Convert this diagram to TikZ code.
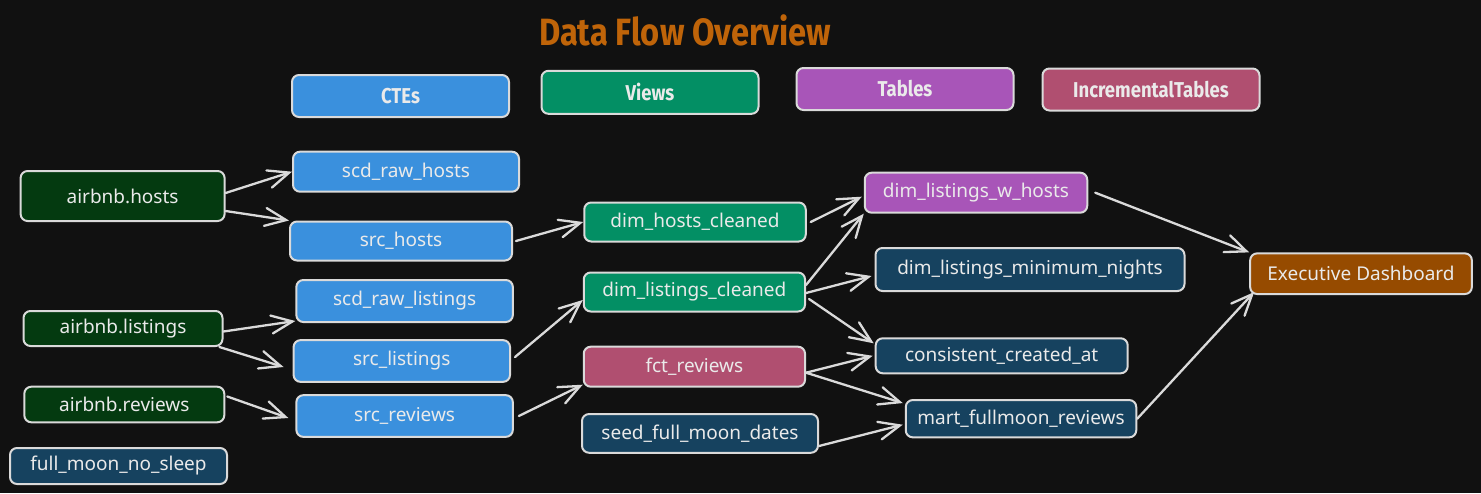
\documentclass[tikz,border=0pt]{standalone}
\usepackage{fontspec}
\usetikzlibrary{arrows.meta}
\newfontfamily\nodefont{Noto Sans}
\newfontfamily\legfont{Fira Sans}[FakeStretch=0.86]
\definecolor{bgc}{HTML}{111111}
\definecolor{edgec}{HTML}{DADADA}
\definecolor{txtc}{HTML}{EAEAEA}
\definecolor{ttlc}{HTML}{BF6409}
\definecolor{ctec}{HTML}{3A90DD}
\definecolor{viewc}{HTML}{038F64}
\definecolor{tablec}{HTML}{A855B8}
\definecolor{incc}{HTML}{B04F70}
\definecolor{srcc}{HTML}{043A10}
\definecolor{dbluec}{HTML}{16425F}
\definecolor{execc}{HTML}{964B00}
\tikzset{
  box/.style={draw=edgec, line width=2pt, rounded corners=7pt, text=txtc,
    font=\nodefont\fontsize{19pt}{22pt}\selectfont, inner sep=0pt, anchor=center},
  legbox/.style={box, font=\legfont\bfseries\fontsize{21.5pt}{24pt}\selectfont, text=txtc},
  flow/.style={draw=edgec, line width=2.3pt, line cap=round,
    -{Straight Barb[length=21pt,width=18pt,line cap=round]}}
}
\begin{document}
\begin{tikzpicture}[x=1pt,y=-1pt]
\fill[bgc] (0,0) rectangle (1481,493);
\useasboundingbox (0,0) rectangle (1481,493);
% title
\node[text=ttlc, font=\legfont\bfseries\fontsize{38pt}{40pt}\selectfont, anchor=center] (title) at (685,30) {Data Flow Overview};
% legend
\node[legbox, fill=ctec, minimum width=217pt, minimum height=42pt] (lcte) at (400.5,96) {CTEs};
\node[legbox, fill=viewc, minimum width=217pt, minimum height=43pt] (lview) at (650,92.3) {Views};
\node[legbox, fill=tablec, minimum width=217pt, minimum height=42pt] (ltab) at (905,89) {Tables};
\node[legbox, fill=incc, minimum width=217pt, minimum height=42pt] (linc) at (1151,89.5) {IncrementalTables};
% sources
\node[box, fill=srcc, minimum width=204pt, minimum height=50pt] (hosts) at (122.6,196) {airbnb.hosts};
\node[box, fill=srcc, minimum width=199pt, minimum height=35pt] (listings) at (123,328.5) {airbnb.listings};
\node[box, fill=srcc, minimum width=200pt, minimum height=35.6pt] (reviews) at (124.3,404.5) {airbnb.reviews};
\node[box, fill=dbluec, minimum width=217pt, minimum height=36pt] (fmns) at (118.5,466) {full\_moon\_no\_sleep};
% CTEs
\node[box, fill=ctec, minimum width=226pt, minimum height=40pt] (srh) at (406,171.7) {scd\_raw\_hosts};
\node[box, fill=ctec, minimum width=222pt, minimum height=39pt] (sh) at (401,241) {src\_hosts};
\node[box, fill=ctec, minimum width=216.5pt, minimum height=42pt] (srl) at (404.6,301) {scd\_raw\_listings};
\node[box, fill=ctec, minimum width=216.5pt, minimum height=41.7pt] (sl) at (401.8,361) {src\_listings};
\node[box, fill=ctec, minimum width=216.5pt, minimum height=41.7pt] (srv) at (404.6,416) {src\_reviews};
% views / middle
\node[box, fill=viewc, minimum width=221.5pt, minimum height=39pt] (dhc) at (695,222) {dim\_hosts\_cleaned};
\node[box, fill=viewc, minimum width=221.3pt, minimum height=39pt] (dlc) at (694.4,292) {dim\_listings\_cleaned};
\node[box, fill=incc, minimum width=221.3pt, minimum height=40pt] (fct) at (694.4,366.7) {fct\_reviews};
\node[box, fill=dbluec, minimum width=236pt, minimum height=38.7pt] (seed) at (700,433.4) {seed\_full\_moon\_dates};
% right column
\node[box, fill=tablec, minimum width=222.5pt, minimum height=40pt] (dlwh) at (976,192.7) {dim\_listings\_w\_hosts};
\node[box, fill=dbluec, minimum width=309pt, minimum height=43pt] (dlmn) at (1030,269.5) {dim\_listings\_minimum\_nights};
\node[box, fill=dbluec, minimum width=252pt, minimum height=35pt] (cca) at (1001.7,355.8) {consistent\_created\_at};
\node[box, fill=dbluec, minimum width=230.5pt, minimum height=37.3pt] (mart) at (1021,418.7) {mart\_fullmoon\_reviews};
\node[box, fill=execc, minimum width=221.7pt, minimum height=40.7pt] (exec) at (1361,273.7) {Executive Dashboard};
% connectors
\draw[flow] ([yshift=3pt]hosts.east) -- (srh.west);
\draw[flow] ([yshift=-15pt]hosts.east) -- (sh.north west);
\draw[flow] ([xshift=3pt]sh.east) -- (dhc.west);
\draw[flow] ([yshift=-3pt]listings.east) -- ([yshift=2pt]srl.south west);
\draw[flow] ([xshift=-4pt]listings.south east) -- ([xshift=-9pt,yshift=-6pt]sl.west);
\draw[flow] ([yshift=8pt,xshift=2pt]reviews.east) -- ([xshift=-7pt,yshift=-2pt]srv.west);
\draw[flow] ([xshift=4pt,yshift=4pt]sl.east) -- ([yshift=-8pt]dlc.west);
\draw[flow] ([xshift=5pt]srv.east) -- ([yshift=3pt]fct.south west);
\draw[flow] ([xshift=4pt]dhc.east) -- ([xshift=-2pt,yshift=-4pt]dlwh.west);
\draw[flow] ([yshift=7pt]dlc.east) -- (dlwh.south west);
\draw[flow] ([yshift=-1pt]dlc.east) -- ([xshift=-3pt,yshift=-6.5pt]dlmn.west);
\draw[flow] ([xshift=3pt,yshift=-7pt]dlc.east) -- ([xshift=-1pt,yshift=-6pt]cca.north west);
\draw[flow] ([yshift=-6pt]fct.east) -- ([xshift=-2pt]cca.west);
\draw[flow] ([yshift=-6pt]fct.east) -- ([xshift=-2pt,yshift=-4pt]mart.north west);
\draw[flow] ([yshift=-12.6pt]seed.east) -- ([xshift=-2pt,yshift=-6pt]mart.west);
\draw[flow] ([xshift=7pt]dlwh.east) -- (exec.north west);
\draw[flow] (mart.east) -- ([xshift=5pt,yshift=3pt]exec.south west);
\end{tikzpicture}
\end{document}
